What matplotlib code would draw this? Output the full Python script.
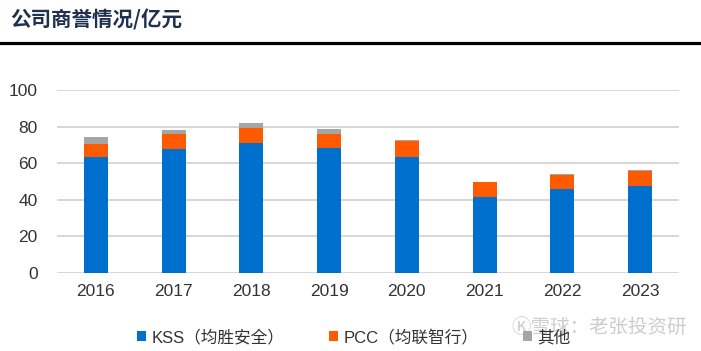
import matplotlib.pyplot as plt
import numpy as np

plt.rcParams['font.family'] = ['Liberation Sans', 'Noto Sans CJK SC', 'DejaVu Sans']

years = ['2016', '2017', '2018', '2019', '2020', '2021', '2022', '2023']
kss = [63.2, 67.5, 70.8, 68.1, 63.5, 41.6, 45.8, 47.6]
pcc = [7.4, 8.2, 8.6, 8.0, 8.8, 7.9, 8.0, 8.2]
other = [3.7, 2.4, 2.4, 2.5, 0.3, 0.4, 0.3, 0.4]
series_names = ['KSS（均胜安全）', 'PCC（均联智行）', '其他']
colors = ['#0070CE', '#FF5A00', '#A5A5A5']

fig = plt.figure(figsize=(7.01, 3.51), dpi=100)
ax = fig.add_axes([57 / 701, 1 - 273 / 351, 622 / 701, 183 / 351])

x = np.arange(len(years))
w = 0.31
bottom = np.zeros(len(years))
handles = []
for vals, name, c in zip([kss, pcc, other], series_names, colors):
    b = ax.bar(x, vals, w, bottom=bottom, color=c, label=name, zorder=3)
    handles.append(b)
    bottom += np.array(vals)

ax.set_xlim(-0.5, 7.5)
ax.set_ylim(0, 100)
ax.set_yticks(range(0, 101, 20))
ax.set_xticks(x)
ax.set_xticklabels(years)
ax.grid(axis='y', color='#D0D0D0', linewidth=1.2, zorder=0)
for s in ax.spines.values():
    s.set_visible(False)
ax.tick_params(length=0, labelsize=12.5, colors='#333333', pad=8)
ax.tick_params(axis='y', pad=14)

# title and rule
fig.text(10 / 701, 1 - 20 / 351, '公司商誉情况/亿元', fontsize=14.8, fontweight='bold',
         color='#1F3150', va='center', ha='left', family=['Noto Sans CJK SC', 'DejaVu Sans'])
fig.add_artist(plt.Line2D([0, 1], [1 - 42.5 / 351, 1 - 42.5 / 351], color='black',
                          linewidth=2.3, transform=fig.transFigure))

leg = fig.legend(handles=handles, labels=series_names, loc='center left',
                 bbox_to_anchor=(122 / 701, 1 - 337 / 351), ncol=3, frameon=False,
                 fontsize=12, handlelength=0.55, handleheight=0.55, handletextpad=0.3,
                 columnspacing=2.7)
for t in leg.get_texts():
    t.set_color('#333333')

# watermark
fig.text(511 / 701, 1 - 327 / 351, 'Ⓚ雪球：老张投资研', fontsize=14, color='#C4C4C4',
         alpha=0.85, va='center', ha='left', family=['Noto Sans CJK SC', 'DejaVu Sans'])

fig.savefig('out.png', dpi=100)
